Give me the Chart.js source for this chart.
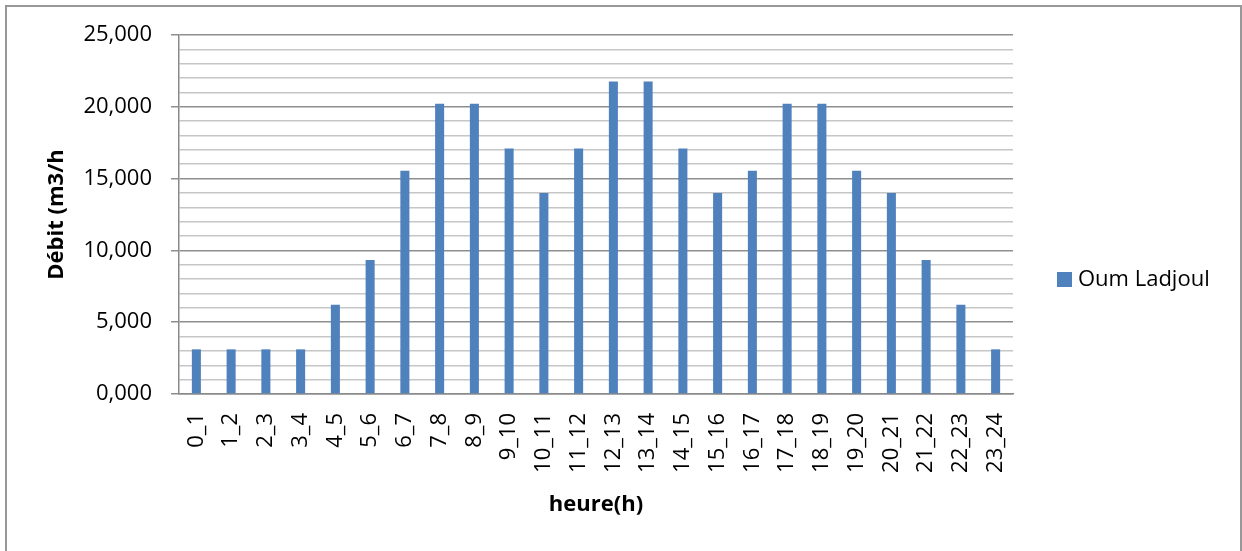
<!DOCTYPE html>
<html>
<head>
<meta charset="utf-8">
<script src="https://cdn.jsdelivr.net/npm/chart.js@4.4.1/dist/chart.umd.min.js"></script>
<style>
  html, body { margin: 0; padding: 0; background: #fff; }
  #frame { position: absolute; left: 5px; top: 5px; width: 1233px; height: 560px; border: 2px solid #989898; border-bottom: none; }
  #wrap { position: absolute; left: 0; top: 0; width: 1242px; height: 551px; }
</style>
</head>
<body>
<div id="frame"></div>
<div id="wrap"><canvas id="debitChart" width="1242" height="551"></canvas></div>
<script>
  // tranches horaires
  const hours = ['0_1', '1_2', '2_3', '3_4', '4_5', '5_6', '6_7', '7_8', '8_9', '9_10', '10_11', '11_12',
    '12_13', '13_14', '14_15', '15_16', '16_17', '17_18', '18_19', '19_20', '20_21', '21_22', '22_23', '23_24'];

  // débit horaire (m3/h)
  const debit = [3.11, 3.11, 3.11, 3.11, 6.22, 9.33, 15.55, 20.21, 20.21, 17.10, 13.99, 17.10,
    21.77, 21.77, 17.10, 13.99, 15.55, 20.21, 20.21, 15.55, 13.99, 9.33, 6.22, 3.11];

  // graduations principales de l'axe Y (les autres sont secondaires)
  const majorTicks = [0, 5, 10, 15, 20, 25];

  const seriesName = 'Oum Ladjoul';
  const barColor = '#4f81bd';
  const fontFamily = '"Open Sans", "DejaVu Sans", sans-serif';

  // légende à droite, centrée sur la hauteur du cadre
  const sideLegend = {
    id: 'sideLegend',
    afterDraw(chart) {
      const ctx = chart.ctx;
      const ds = chart.data.datasets[0];
      ctx.save();
      ctx.fillStyle = ds.backgroundColor;
      ctx.fillRect(1057, 272, 15, 15);
      ctx.fillStyle = '#000';
      ctx.font = '22px ' + fontFamily;
      ctx.textBaseline = 'middle';
      ctx.textAlign = 'left';
      ctx.fillText(ds.label, 1078, 280);
      ctx.restore();
    }
  };

  const isMajor = (v) => majorTicks.includes(v);

  new Chart(document.getElementById('debitChart'), {
    type: 'bar',
    data: {
      labels: hours,
      datasets: [{
        label: seriesName,
        data: debit,
        backgroundColor: barColor,
        barPercentage: 0.26,
        categoryPercentage: 1.0
      }]
    },
    options: {
      responsive: false,
      animation: false,
      layout: { padding: { left: 0, top: 35, right: 229, bottom: 0 } },
      plugins: {
        legend: { display: false },
        tooltip: { enabled: false }
      },
      scales: {
        x: {
          grid: { display: false, drawTicks: false, tickLength: 0 },
          border: { color: '#8a8a8a', width: 1.5 },
          ticks: {
            minRotation: 90,
            maxRotation: 90,
            autoSkip: false,
            padding: 19,
            color: '#000',
            font: { family: fontFamily, size: 22 }
          },
          title: {
            display: true,
            text: 'heure(h)',
            color: '#000',
            font: { family: fontFamily, size: 22, weight: 'bold' },
            padding: { top: 0, bottom: 33 }
          },
          afterFit(scale) { scale.height = 157; }
        },
        y: {
          min: 0,
          max: 25,
          grid: {
            color: (c) => isMajor(c.tick.value) ? '#8e8e8e' : '#c6c6c6',
            tickColor: (c) => isMajor(c.tick.value) ? '#8e8e8e' : 'rgba(0,0,0,0)',
            tickLength: 8,
            lineWidth: 1.5
          },
          border: { color: '#8a8a8a', width: 1.5 },
          ticks: {
            stepSize: 1,
            autoSkip: false,
            padding: 19,
            color: '#000',
            font: { family: fontFamily, size: 22 },
            callback: (v) => isMajor(v) ? v.toFixed(3).replace('.', ',') : ''
          },
          title: {
            display: true,
            text: 'Débit (m3/h',
            color: '#000',
            font: { family: fontFamily, size: 22, weight: 'bold' },
            padding: { top: 44, bottom: 0 }
          },
          afterFit(scale) { scale.width = 179; }
        }
      }
    },
    plugins: [sideLegend]
  });
</script>
</body>
</html>
